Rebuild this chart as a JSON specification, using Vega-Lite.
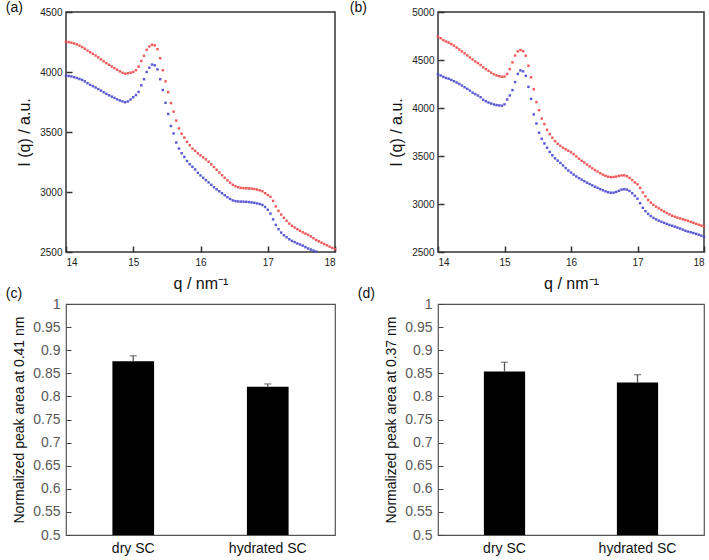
{
  "$schema": "https://vega.github.io/schema/vega-lite/v6.json",
  "background": "white",
  "padding": {"left": 5, "top": 0, "right": 0, "bottom": 0},
  "config": {
    "font": "Liberation Sans",
    "view": {"stroke": "#333", "strokeWidth": 1.5},
    "axis": {"grid": false, "domain": false, "labelFont": "Liberation Sans", "titleFont": "Liberation Sans", "titleFontWeight": "normal", "titleColor": "#111", "labelOverlap": false},
    "title": {"font": "Liberation Sans", "fontWeight": "normal", "fontSize": 14, "anchor": "start", "frame": "bounds", "color": "#111"}
  },
  "datasets": {
    "scat": [
      {"q":14.00,"ar":4252,"ab":3970,"br":4742,"bb":4352},
      {"q":14.04,"ar":4249,"ab":3967,"br":4727,"bb":4338},
      {"q":14.08,"ar":4244,"ab":3963,"br":4707,"bb":4324},
      {"q":14.12,"ar":4238,"ab":3957,"br":4693,"bb":4313},
      {"q":14.16,"ar":4231,"ab":3950,"br":4681,"bb":4305},
      {"q":14.20,"ar":4220,"ab":3942,"br":4666,"bb":4292},
      {"q":14.24,"ar":4208,"ab":3934,"br":4650,"bb":4279},
      {"q":14.28,"ar":4194,"ab":3922,"br":4630,"bb":4265},
      {"q":14.32,"ar":4179,"ab":3907,"br":4609,"bb":4251},
      {"q":14.36,"ar":4165,"ab":3893,"br":4589,"bb":4234},
      {"q":14.40,"ar":4151,"ab":3882,"br":4569,"bb":4216},
      {"q":14.44,"ar":4137,"ab":3871,"br":4548,"bb":4199},
      {"q":14.48,"ar":4122,"ab":3858,"br":4526,"bb":4181},
      {"q":14.52,"ar":4105,"ab":3845,"br":4505,"bb":4160},
      {"q":14.56,"ar":4089,"ab":3831,"br":4485,"bb":4145},
      {"q":14.60,"ar":4074,"ab":3818,"br":4468,"bb":4130},
      {"q":14.64,"ar":4060,"ab":3806,"br":4448,"bb":4112},
      {"q":14.68,"ar":4046,"ab":3795,"br":4424,"bb":4085},
      {"q":14.72,"ar":4032,"ab":3784,"br":4405,"bb":4070},
      {"q":14.76,"ar":4019,"ab":3772,"br":4387,"bb":4057},
      {"q":14.80,"ar":4006,"ab":3763,"br":4368,"bb":4046},
      {"q":14.84,"ar":3994,"ab":3755,"br":4352,"bb":4037},
      {"q":14.88,"ar":3986,"ab":3748,"br":4340,"bb":4031},
      {"q":14.92,"ar":3990,"ab":3755,"br":4331,"bb":4027},
      {"q":14.96,"ar":3994,"ab":3771,"br":4325,"bb":4024},
      {"q":15.00,"ar":4000,"ab":3790,"br":4327,"bb":4038},
      {"q":15.04,"ar":4015,"ab":3808,"br":4355,"bb":4089},
      {"q":15.08,"ar":4045,"ab":3834,"br":4405,"bb":4131},
      {"q":15.12,"ar":4092,"ab":3889,"br":4475,"bb":4186},
      {"q":15.16,"ar":4135,"ab":3940,"br":4547,"bb":4270},
      {"q":15.20,"ar":4185,"ab":4000,"br":4590,"bb":4355},
      {"q":15.24,"ar":4213,"ab":4036,"br":4604,"bb":4392},
      {"q":15.28,"ar":4227,"ab":4062,"br":4592,"bb":4382},
      {"q":15.32,"ar":4222,"ab":4056,"br":4545,"bb":4335},
      {"q":15.36,"ar":4190,"ab":4022,"br":4440,"bb":4220},
      {"q":15.40,"ar":4115,"ab":3940,"br":4320,"bb":4095},
      {"q":15.44,"ar":4015,"ab":3850,"br":4195,"bb":3933},
      {"q":15.48,"ar":3922,"ab":3743,"br":4061,"bb":3839},
      {"q":15.52,"ar":3832,"ab":3650,"br":3978,"bb":3742},
      {"q":15.56,"ar":3741,"ab":3550,"br":3890,"bb":3679},
      {"q":15.60,"ar":3670,"ab":3488,"br":3832,"bb":3631},
      {"q":15.64,"ar":3595,"ab":3412,"br":3772,"bb":3586},
      {"q":15.68,"ar":3530,"ab":3362,"br":3728,"bb":3542},
      {"q":15.72,"ar":3486,"ab":3323,"br":3690,"bb":3508},
      {"q":15.76,"ar":3453,"ab":3292,"br":3655,"bb":3476},
      {"q":15.80,"ar":3418,"ab":3258,"br":3627,"bb":3452},
      {"q":15.84,"ar":3390,"ab":3232,"br":3605,"bb":3428},
      {"q":15.88,"ar":3362,"ab":3210,"br":3586,"bb":3402},
      {"q":15.92,"ar":3343,"ab":3188,"br":3570,"bb":3374},
      {"q":15.96,"ar":3322,"ab":3160,"br":3555,"bb":3349},
      {"q":16.00,"ar":3305,"ab":3138,"br":3539,"bb":3327},
      {"q":16.04,"ar":3288,"ab":3118,"br":3520,"bb":3306},
      {"q":16.08,"ar":3272,"ab":3099,"br":3496,"bb":3287},
      {"q":16.12,"ar":3252,"ab":3080,"br":3472,"bb":3270},
      {"q":16.16,"ar":3230,"ab":3060,"br":3450,"bb":3254},
      {"q":16.20,"ar":3208,"ab":3040,"br":3432,"bb":3238},
      {"q":16.24,"ar":3185,"ab":3022,"br":3412,"bb":3222},
      {"q":16.28,"ar":3162,"ab":3006,"br":3392,"bb":3208},
      {"q":16.32,"ar":3140,"ab":2990,"br":3372,"bb":3194},
      {"q":16.36,"ar":3118,"ab":2973,"br":3354,"bb":3180},
      {"q":16.40,"ar":3097,"ab":2957,"br":3338,"bb":3168},
      {"q":16.44,"ar":3078,"ab":2942,"br":3321,"bb":3155},
      {"q":16.48,"ar":3060,"ab":2930,"br":3306,"bb":3143},
      {"q":16.52,"ar":3048,"ab":2924,"br":3294,"bb":3132},
      {"q":16.56,"ar":3040,"ab":2921,"br":3284,"bb":3122},
      {"q":16.60,"ar":3034,"ab":2920,"br":3280,"bb":3117},
      {"q":16.64,"ar":3032,"ab":2919,"br":3281,"bb":3118},
      {"q":16.68,"ar":3031,"ab":2918,"br":3286,"bb":3126},
      {"q":16.72,"ar":3030,"ab":2916,"br":3292,"bb":3137},
      {"q":16.76,"ar":3028,"ab":2913,"br":3298,"bb":3150},
      {"q":16.80,"ar":3025,"ab":2910,"br":3298,"bb":3154},
      {"q":16.84,"ar":3020,"ab":2905,"br":3290,"bb":3150},
      {"q":16.88,"ar":3014,"ab":2900,"br":3272,"bb":3136},
      {"q":16.92,"ar":3006,"ab":2892,"br":3250,"bb":3112},
      {"q":16.96,"ar":2990,"ab":2875,"br":3225,"bb":3085},
      {"q":17.00,"ar":2975,"ab":2852,"br":3205,"bb":3055},
      {"q":17.04,"ar":2960,"ab":2820,"br":3168,"bb":3008},
      {"q":17.08,"ar":2926,"ab":2772,"br":3120,"bb":2960},
      {"q":17.12,"ar":2880,"ab":2726,"br":3080,"bb":2925},
      {"q":17.16,"ar":2843,"ab":2690,"br":3042,"bb":2897},
      {"q":17.20,"ar":2812,"ab":2662,"br":3015,"bb":2874},
      {"q":17.24,"ar":2785,"ab":2640,"br":2992,"bb":2855},
      {"q":17.28,"ar":2760,"ab":2623,"br":2972,"bb":2840},
      {"q":17.32,"ar":2737,"ab":2606,"br":2955,"bb":2826},
      {"q":17.36,"ar":2718,"ab":2593,"br":2938,"bb":2814},
      {"q":17.40,"ar":2704,"ab":2582,"br":2922,"bb":2803},
      {"q":17.44,"ar":2690,"ab":2571,"br":2907,"bb":2792},
      {"q":17.48,"ar":2677,"ab":2563,"br":2892,"bb":2782},
      {"q":17.52,"ar":2664,"ab":2553,"br":2878,"bb":2773},
      {"q":17.56,"ar":2653,"ab":2541,"br":2868,"bb":2764},
      {"q":17.60,"ar":2643,"ab":2529,"br":2858,"bb":2754},
      {"q":17.64,"ar":2630,"ab":2520,"br":2849,"bb":2744},
      {"q":17.68,"ar":2615,"ab":2512,"br":2841,"bb":2733},
      {"q":17.72,"ar":2600,"ab":2503,"br":2833,"bb":2721},
      {"q":17.76,"ar":2589,"ab":null,"br":2824,"bb":2713},
      {"q":17.80,"ar":2578,"ab":null,"br":2814,"bb":2706},
      {"q":17.84,"ar":2567,"ab":null,"br":2804,"bb":2698},
      {"q":17.88,"ar":2556,"ab":null,"br":2794,"bb":2689},
      {"q":17.92,"ar":2545,"ab":null,"br":2784,"bb":2680},
      {"q":17.96,"ar":2534,"ab":null,"br":2775,"bb":2670},
      {"q":18.00,"ar":2524,"ab":null,"br":2765,"bb":2660}
    ],
    "barsC": [
      {"g":"dry SC","v":0.876,"hi":0.888},
      {"g":"hydrated SC","v":0.821,"hi":0.827}
    ],
    "barsD": [
      {"g":"dry SC","v":0.854,"hi":0.874},
      {"g":"hydrated SC","v":0.830,"hi":0.847}
    ]
  },
  "columns": 2,
  "spacing": {"row": -6, "column": 12},
  "concat": [
    {
      "width": 269, "height": 240,
      "title": {"text": "(a)", "dx": -11, "offset": -8},
      "data": {"name": "scat"},
      "transform": [{"fold": ["ar", "ab"], "as": ["s", "I"]}, {"filter": "isValid(datum.I)"}],
      "mark": {"type": "square", "size": 6, "opacity": 0.9},
      "encoding": {
        "x": {"field": "q", "type": "quantitative", "scale": {"domain": [14, 18], "nice": false},
              "axis": {"title": "q / nm⁻¹", "values": [14, 15, 16, 17, 18], "format": "d", "labelFontSize": 10, "labelColor": "#222", "tickSize": -6, "tickColor": "#333", "tickWidth": 1.5, "labelPadding": 11, "titleFontSize": 16, "titlePadding": 8}},
        "y": {"field": "I", "type": "quantitative", "scale": {"domain": [2500, 4500], "nice": false},
              "axis": {"title": "I (q) / a.u.", "values": [2500, 3000, 3500, 4000, 4500], "format": "d", "labelFontSize": 10, "labelColor": "#222", "tickSize": -6, "tickColor": "#333", "tickWidth": 1.5, "labelPadding": 10, "titleFontSize": 16, "titlePadding": 7}},
        "color": {"field": "s", "type": "nominal", "scale": {"domain": ["ar", "ab"], "range": ["#f04848", "#4848d0"]}, "legend": null}
      }
    },
    {
      "width": 266, "height": 240,
      "title": {"text": "(b)", "dx": -39, "offset": -8},
      "data": {"name": "scat"},
      "transform": [{"fold": ["br", "bb"], "as": ["s", "I"]}, {"filter": "isValid(datum.I)"}],
      "mark": {"type": "square", "size": 6, "opacity": 0.9},
      "encoding": {
        "x": {"field": "q", "type": "quantitative", "scale": {"domain": [14, 18], "nice": false},
              "axis": {"title": "q / nm⁻¹", "values": [14, 15, 16, 17, 18], "format": "d", "labelFontSize": 10, "labelColor": "#222", "tickSize": -6, "tickColor": "#333", "tickWidth": 1.5, "labelPadding": 11, "titleFontSize": 16, "titlePadding": 8}},
        "y": {"field": "I", "type": "quantitative", "scale": {"domain": [2500, 5000], "nice": false},
              "axis": {"title": "I (q) / a.u.", "values": [2500, 3000, 3500, 4000, 4500, 5000], "format": "d", "labelFontSize": 10, "labelColor": "#222", "tickSize": -6, "tickColor": "#333", "tickWidth": 1.5, "labelPadding": 10, "titleFontSize": 16, "titlePadding": 7}},
        "color": {"field": "s", "type": "nominal", "scale": {"domain": ["br", "bb"], "range": ["#f04848", "#4848d0"]}, "legend": null}
      }
    },
    {
      "width": 269, "height": 231,
      "title": {"text": "(c)", "dx": -7, "offset": -4},
      "view": {"stroke": "#555", "strokeWidth": 1.2},
      "data": {"name": "barsC"},
      "encoding": {
        "x": {"field": "g", "type": "nominal", "sort": null, "scale": {"paddingInner": 0, "paddingOuter": 0},
              "axis": {"title": null, "labelAngle": 0, "labelFontSize": 14, "labelColor": "#111", "ticks": false, "labelPadding": 6}}
      },
      "layer": [
        {"mark": {"type": "bar", "color": "black", "width": {"band": 0.31}},
         "encoding": {"y": {"field": "v", "type": "quantitative", "scale": {"domain": [0.5, 1], "nice": false, "zero": false},
                            "axis": {"title": "Normalized peak area at 0.41 nm", "values": [0.5, 0.55, 0.6, 0.65, 0.7, 0.75, 0.8, 0.85, 0.9, 0.95, 1], "format": "~g", "labelOverlap": false, "labelFontSize": 14, "labelColor": "#595959", "tickSize": -5, "tickColor": "#444", "labelPadding": 11, "titleFontSize": 14, "titlePadding": 6}},
                      "y2": {"datum": 0.5}}},
        {"mark": {"type": "rule", "color": "#555", "strokeWidth": 1.3},
         "encoding": {"y": {"field": "v", "type": "quantitative",
                            "axis": {"title": "Normalized peak area at 0.41 nm", "values": [0.5, 0.55, 0.6, 0.65, 0.7, 0.75, 0.8, 0.85, 0.9, 0.95, 1], "format": "~g", "labelOverlap": false, "labelFontSize": 14, "labelColor": "#595959", "tickSize": -5, "tickColor": "#444", "labelPadding": 11, "titleFontSize": 14, "titlePadding": 6}},
                      "y2": {"field": "hi"}}},
        {"mark": {"type": "tick", "color": "#555", "thickness": 1.3, "size": 7},
         "encoding": {"y": {"field": "hi", "type": "quantitative",
                            "axis": {"title": "Normalized peak area at 0.41 nm", "values": [0.5, 0.55, 0.6, 0.65, 0.7, 0.75, 0.8, 0.85, 0.9, 0.95, 1], "format": "~g", "labelOverlap": false, "labelFontSize": 14, "labelColor": "#595959", "tickSize": -5, "tickColor": "#444", "labelPadding": 11, "titleFontSize": 14, "titlePadding": 6}}}}
      ]
    },
    {
      "width": 266, "height": 231,
      "title": {"text": "(d)", "dx": -27, "offset": -4},
      "view": {"stroke": "#555", "strokeWidth": 1.2},
      "data": {"name": "barsD"},
      "encoding": {
        "x": {"field": "g", "type": "nominal", "sort": null, "scale": {"paddingInner": 0, "paddingOuter": 0},
              "axis": {"title": null, "labelAngle": 0, "labelFontSize": 14, "labelColor": "#111", "ticks": false, "labelPadding": 6}}
      },
      "layer": [
        {"mark": {"type": "bar", "color": "black", "width": {"band": 0.31}},
         "encoding": {"y": {"field": "v", "type": "quantitative", "scale": {"domain": [0.5, 1], "nice": false, "zero": false},
                            "axis": {"title": "Normalized peak area at 0.37 nm", "values": [0.5, 0.55, 0.6, 0.65, 0.7, 0.75, 0.8, 0.85, 0.9, 0.95, 1], "format": "~g", "labelOverlap": false, "labelFontSize": 14, "labelColor": "#595959", "tickSize": -5, "tickColor": "#444", "labelPadding": 11, "titleFontSize": 14, "titlePadding": 6}},
                      "y2": {"datum": 0.5}}},
        {"mark": {"type": "rule", "color": "#555", "strokeWidth": 1.3},
         "encoding": {"y": {"field": "v", "type": "quantitative",
                            "axis": {"title": "Normalized peak area at 0.37 nm", "values": [0.5, 0.55, 0.6, 0.65, 0.7, 0.75, 0.8, 0.85, 0.9, 0.95, 1], "format": "~g", "labelOverlap": false, "labelFontSize": 14, "labelColor": "#595959", "tickSize": -5, "tickColor": "#444", "labelPadding": 11, "titleFontSize": 14, "titlePadding": 6}},
                      "y2": {"field": "hi"}}},
        {"mark": {"type": "tick", "color": "#555", "thickness": 1.3, "size": 7},
         "encoding": {"y": {"field": "hi", "type": "quantitative",
                            "axis": {"title": "Normalized peak area at 0.37 nm", "values": [0.5, 0.55, 0.6, 0.65, 0.7, 0.75, 0.8, 0.85, 0.9, 0.95, 1], "format": "~g", "labelOverlap": false, "labelFontSize": 14, "labelColor": "#595959", "tickSize": -5, "tickColor": "#444", "labelPadding": 11, "titleFontSize": 14, "titlePadding": 6}}}}
      ]
    }
  ]
}
